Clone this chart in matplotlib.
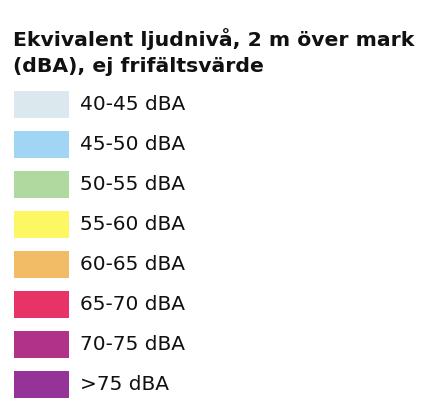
import matplotlib
matplotlib.use("Agg")
import matplotlib.pyplot as plt

title = "Ekvivalent ljudnivå, 2 m över mark\n(dBA), ej frifältsvärde"
labels = ["40-45 dBA", "45-50 dBA", "50-55 dBA", "55-60 dBA",
          "60-65 dBA", "65-70 dBA", "70-75 dBA", ">75 dBA"]
colors = ["#dbe9ee", "#a0d6f4", "#b0d99f", "#fdf764",
          "#f2bb66", "#e83366", "#b03389", "#963399"]

W, H = 426, 404
fig = plt.figure(figsize=(W / 100, H / 100), dpi=100)

# swatch column: 14..69 px wide, rows 40 px apart starting at 104 px
ax = fig.add_axes([14 / W, (H - 404.5) / H, 55 / W, 320 / H])
rows = list(range(len(labels)))
ax.barh(rows, [1] * len(rows), left=0, height=0.68, color=colors)
ax.set_xlim(0, 1)
ax.set_ylim(len(rows) - 0.5, -0.5)
ax.axis("off")

for i, lab in zip(rows, labels):
    ax.text(1.2, i, lab, fontsize=14.5, va="center", ha="left",
            color="#111111", clip_on=False)

fig.text(13 / W, 1 - 28 / H, title, fontsize=14.7, fontweight="bold",
         va="top", ha="left", linespacing=1.45, color="#111111")

fig.savefig("out.png", dpi=100)
